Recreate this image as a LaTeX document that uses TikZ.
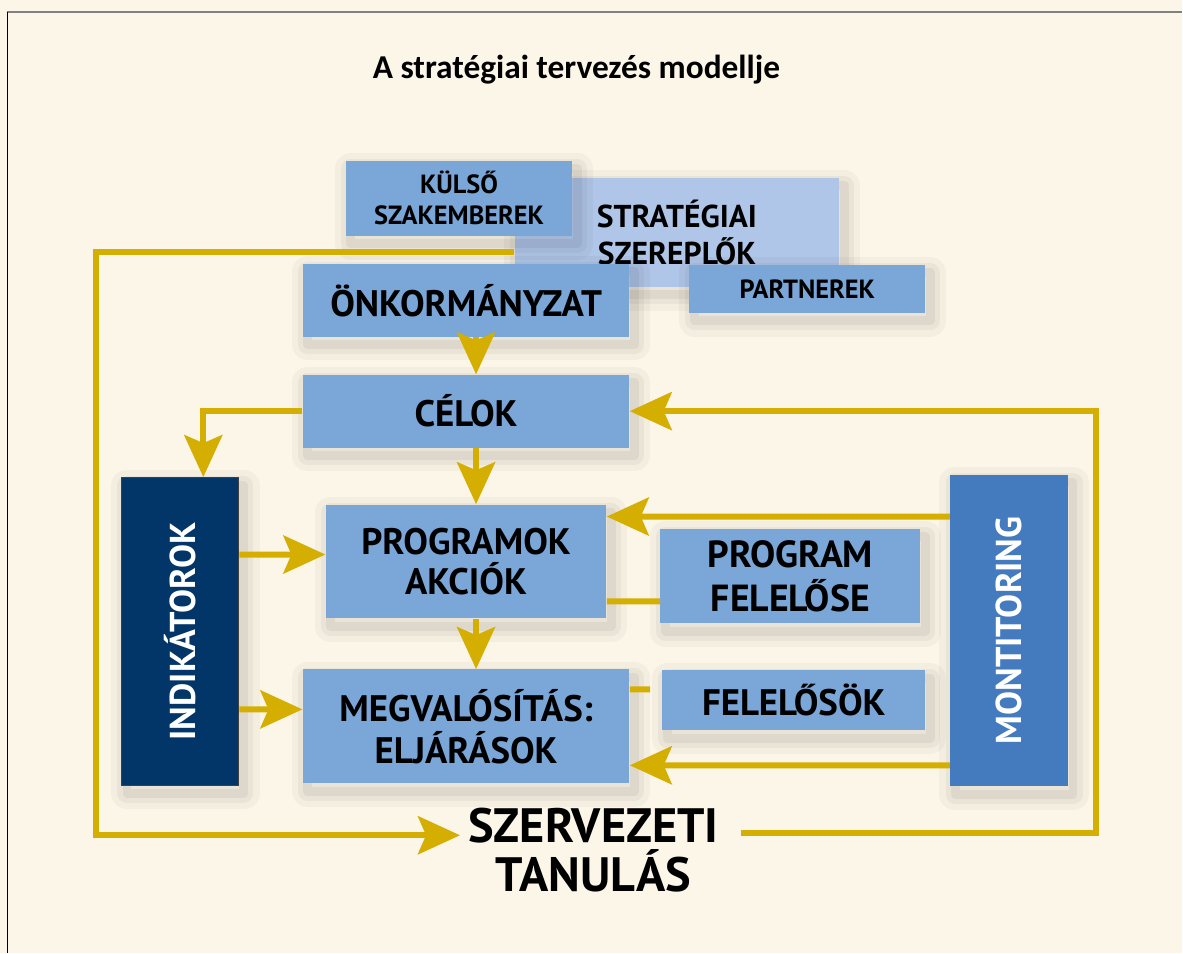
\documentclass[tikz,border=0pt]{standalone}
\usepackage{fontspec}
\setmainfont{PT Sans}
\newfontfamily\titlefont{Carlito}
\usetikzlibrary{positioning,arrows.meta}

\definecolor{paper}{RGB}{252,246,232}
\definecolor{boxblue}{RGB}{122,166,216}
\definecolor{paleblue}{RGB}{176,198,232}
\definecolor{navy}{RGB}{2,54,104}
\definecolor{monblue}{RGB}{68,123,190}
\definecolor{gold}{RGB}{212,174,0}

\begin{document}
\begin{tikzpicture}[
    x=0.02cm, y=-0.02cm,
    haze/.style 2 args={preaction={draw=black, fill=none, draw opacity=#2, line width=#1,
        line join=round, transform canvas={shift={(0.1cm,-0.16cm)}}}},
    box/.style={
        rectangle,% plain blue box
        fill=boxblue,
        inner sep=0pt,
        align=center,
        font=\bfseries\fontsize{21}{24}\selectfont,
        haze={18pt}{0.03}, haze={11pt}{0.04}, haze={5pt}{0.05},% soft shadow
    },
    smallbox/.style={box, font=\bfseries\fontsize{15}{17.6}\selectfont},
    sidebar/.style={box, text=white, font=\bfseries\fontsize{20.5}{24}\selectfont},
    title/.style={font=\titlefont\bfseries\fontsize{19}{22}\selectfont},
    link/.style={draw=gold, line width=3.4pt},
    arrow/.style={link, -{Stealth[length=0.84cm, width=0.76cm, inset=0.16cm]}}
]

    % Background and frame
    \fill[paper] (0,0) rectangle (1183,954);
    \draw[gray, line width=1.2pt] (7,12) -- (1183,12);
    \draw[black, line width=0.8pt] (7.5,12) -- (7.5,954);

    % Nodes
    \node[title] (title) at (577,70) {A stratégiai tervezés modellje};

    \node[box, fill=paleblue, minimum width=6.5cm, minimum height=2.18cm, font=\bfseries\fontsize{18}{21}\selectfont] (szereplok) at (677.5,232.5) {STRATÉGIAI\\SZEREPLŐK};
    \node[smallbox, minimum width=4.54cm, minimum height=1.5cm] (kulso) at (459.5,198.5) {KÜLSŐ\\SZAKEMBEREK};
    \node[box, minimum width=6.54cm, minimum height=1.46cm] (onkorm) at (466.5,300.5) {ÖNKORMÁNYZAT};
    \node[smallbox, minimum width=4.72cm, minimum height=0.96cm] (partnerek) at (808,289) {PARTNEREK};

    \node[box, minimum width=6.54cm, minimum height=1.46cm] (celok) at (466.5,411.5) {CÉLOK};
    \node[sidebar, fill=navy, draw=black!75, line width=0.6pt, minimum width=2.34cm, minimum height=6.16cm] (indik) at (180.5,632) {\rotatebox{90}{INDIKÁTOROK}};
    \node[box, minimum width=5.62cm, minimum height=2.28cm, font=\bfseries\fontsize{21}{23.2}\selectfont] (programok) at (466.5,562) {PROGRAMOK\\AKCIÓK};
    \node[box, minimum width=5.2cm, minimum height=1.9cm, font=\bfseries\fontsize{21.5}{25}\selectfont] (progfel) at (791,576.5) {PROGRAM\\FELELŐSE};
    \node[box, minimum width=6.54cm, minimum height=2.28cm, font=\bfseries\fontsize{21}{23.8}\selectfont] (megval) at (466.5,727) {MEGVALÓSÍTÁS:\\ELJÁRÁSOK};
    \node[box, minimum width=5.26cm, minimum height=1.2cm] (felelosok) at (794.5,701) {FELELŐSÖK};
    \node[sidebar, fill=monblue, minimum width=2.36cm, minimum height=6.24cm] (monitor) at (1010,631) {\rotatebox{90}{MONTITORING}};

    \node[align=center, inner sep=0.16cm, font=\bfseries\fontsize{27.5}{28.3}\selectfont] (tanulas) at (594,851) {SZERVEZETI\\TANULÁS};

    \coordinate (tl) at (96,252);
    \coordinate (bl) at (96,836);
    \coordinate (br) at (1097,834);

    % Connections
    \draw[arrow] (szereplok.west |- tl) -- (tl) -- (bl) -- (bl -| tanulas.west);
    \draw[arrow] ([xshift=0.2cm]onkorm.south) -- ([xshift=0.2cm]celok.north);
    \draw[arrow] (celok.west) -| ([xshift=0.46cm]indik.north);
    \draw[arrow] ([xshift=0.2cm]celok.south) -- ([xshift=0.2cm]programok.north);
    \draw[arrow] ([xshift=0.2cm]programok.south) -- ([xshift=0.2cm]megval.north);
    \draw[arrow] ([yshift=1.54cm]indik.east) -- ([yshift=0.14cm]programok.west);
    \draw[arrow] ([yshift=-1.56cm]indik.east) -- ([yshift=0.34cm]megval.west);
    \draw[arrow] ([yshift=2.28cm]monitor.west) -- ([yshift=0.9cm]programok.east);
    \draw[arrow] ([yshift=-2.7cm]monitor.west) -- ([yshift=-0.78cm]megval.east);
    \draw[link] ([yshift=-0.8cm]programok.east) -- ([yshift=-0.51cm]progfel.west);
    \draw[link, shorten >=0.24cm] ([yshift=0.74cm]megval.east) -- ([yshift=0.22cm]felelosok.west);
    \draw[arrow, shorten <=0.28cm] (tanulas.east |- br) -- (br) |- (celok.east);
\end{tikzpicture}
\end{document}
